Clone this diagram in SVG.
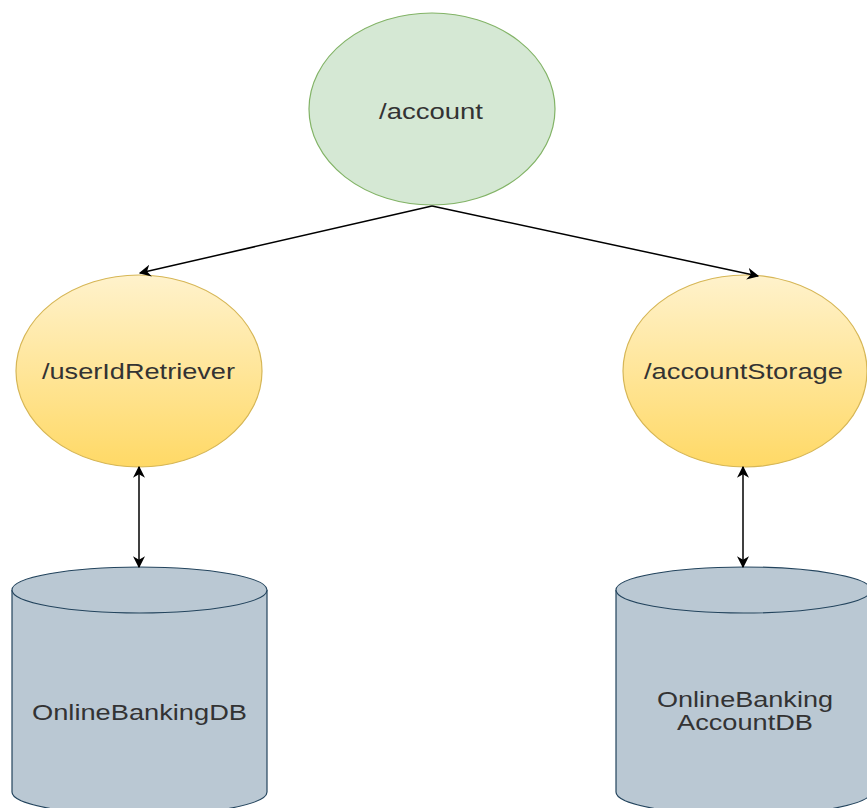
<svg xmlns="http://www.w3.org/2000/svg" width="867" height="808" viewBox="0 0 867 808">
<style>
.t{font-family:"Liberation Sans",Arial,sans-serif;font-size:22px;fill:#333333;text-anchor:middle}
.e{stroke:#000;stroke-width:1.5;fill:none}
.y{fill:url(#gy);stroke:#d6b656;stroke-width:1.2}
.c{fill:#bac8d3;stroke:#23445d;stroke-width:1.2}
</style>
<defs>
<linearGradient id="gy" x1="0" y1="0" x2="0" y2="1">
<stop offset="0" stop-color="#fff2cc"/>
<stop offset="1" stop-color="#ffd966"/>
</linearGradient>
<marker id="a" viewBox="0 0 10 10" refX="9" refY="5" markerWidth="12" markerHeight="12" markerUnits="userSpaceOnUse" orient="auto-start-reverse">
<path d="M0,0 L10,5 L0,10 L3,5 Z" fill="#000"/>
</marker>
</defs>
<rect width="867" height="808" fill="#fff"/>
<g id="account">
<ellipse cx="432" cy="109" rx="123" ry="96" fill="#d5e8d4" stroke="#82b366" stroke-width="1.2"/>
<text class="t" x="431" y="119" textLength="104" lengthAdjust="spacingAndGlyphs">/account</text>
</g>
<g id="userIdRetriever">
<ellipse class="y" cx="139" cy="371" rx="123" ry="96"/>
<text class="t" x="138.5" y="379" textLength="193" lengthAdjust="spacingAndGlyphs">/userIdRetriever</text>
</g>
<g id="accountStorage">
<ellipse class="y" cx="745" cy="371" rx="122" ry="96"/>
<text class="t" x="743.5" y="379" textLength="199" lengthAdjust="spacingAndGlyphs">/accountStorage</text>
</g>
<g id="OnlineBankingDB">
<path class="c" d="M12,590 A127.5,23 0 0 1 267,590 L267,792 A127.5,23 0 0 1 12,792 Z"/>
<path class="c" d="M12,590 A127.5,23 0 0 0 267,590" fill="none"/>
<text class="t" x="139.5" y="720" textLength="215" lengthAdjust="spacingAndGlyphs">OnlineBankingDB</text>
</g>
<g id="OnlineBankingAccountDB">
<path class="c" d="M616,590 A127.5,23 0 0 1 871,590 L871,792 A127.5,23 0 0 1 616,792 Z"/>
<path class="c" d="M616,590 A127.5,23 0 0 0 871,590" fill="none"/>
<text class="t" x="745" y="707" textLength="176" lengthAdjust="spacingAndGlyphs">OnlineBanking</text>
<text class="t" x="745" y="730" textLength="136" lengthAdjust="spacingAndGlyphs">AccountDB</text>
</g>
<g id="connectors">
<line class="e" x1="432" y1="206" x2="140" y2="273" marker-end="url(#a)"/>
<line class="e" x1="432" y1="206" x2="758" y2="276" marker-end="url(#a)"/>
<line class="e" x1="139" y1="467" x2="139" y2="567" marker-start="url(#a)" marker-end="url(#a)"/>
<line class="e" x1="743" y1="467" x2="743" y2="567" marker-start="url(#a)" marker-end="url(#a)"/>
</g>
</svg>
